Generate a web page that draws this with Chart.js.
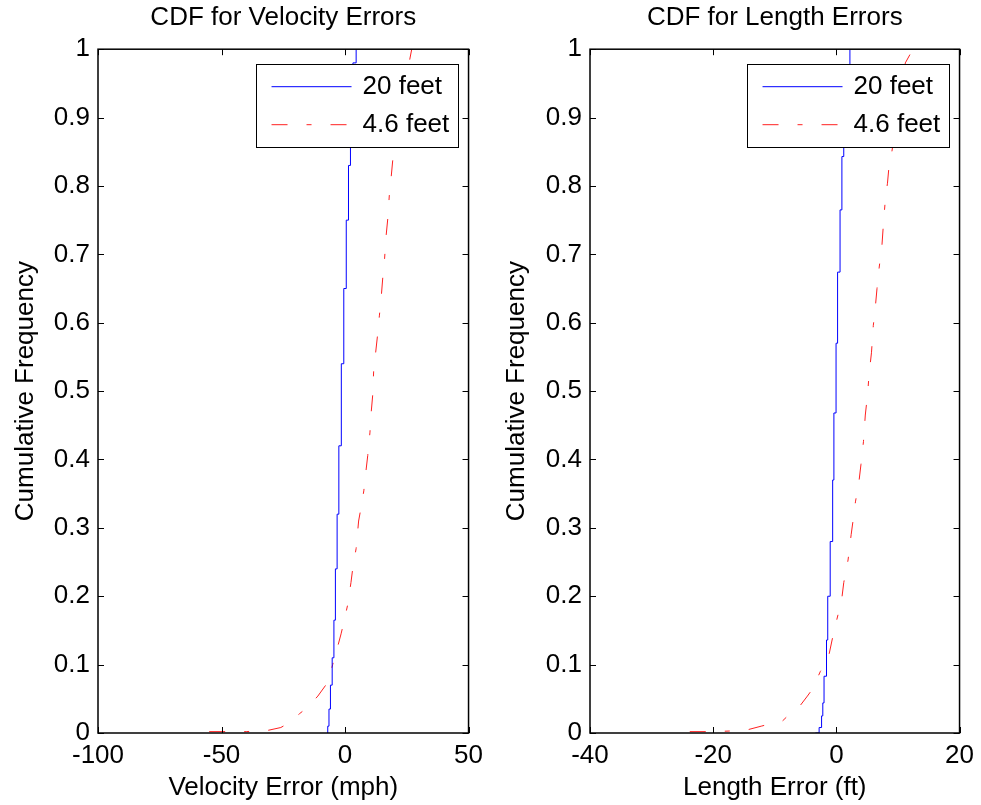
<!DOCTYPE html>
<html><head><meta charset="utf-8">
<script src="https://cdn.jsdelivr.net/npm/chart.js@4.4.1/dist/chart.umd.min.js"></script>
<style>
html,body{margin:0;padding:0;background:#fff;}
#wrap{position:relative;width:981px;height:805px;background:#fff;}
canvas{position:absolute;top:0;}
</style></head><body>
<div id="wrap">
<canvas id="c1" width="490" height="805" style="left:0"></canvas>
<canvas id="c2" width="491" height="805" style="left:490px"></canvas>
</div>
<script>
// ---- data ----
const seriesNames = ['20 feet', '4.6 feet'];
const velTitle = 'CDF for Velocity Errors';
const lenTitle = 'CDF for Length Errors';
const velXLabel = 'Velocity Error (mph)';
const lenXLabel = 'Length Error (ft)';
const yLabel = 'Cumulative Frequency';

const velXTicks = [-100, -50, 0, 50];
const lenXTicks = [-40, -20, 0, 20];
const yTicks = [0, 0.1, 0.2, 0.3, 0.4, 0.5, 0.6, 0.7, 0.8, 0.9, 1];
const yTickLabels = ['0', '0.1', '0.2', '0.3', '0.4', '0.5', '0.6', '0.7', '0.8', '0.9', '1'];

// Velocity errors, 20 feet
const vel20X = [-7.0, -7.0, -6.5, -5.9, -5.2, -4.5, -3.9, -3.2, -2.5, -1.5, -0.5, 0.5, 1.4, 2.2, 3.2, 4.5];
const vel20Y = [0, 0.01, 0.035, 0.07, 0.11, 0.165, 0.24, 0.32, 0.42, 0.54, 0.65, 0.75, 0.83, 0.93, 0.98, 1.0];
// Velocity errors, 4.6 feet
const vel46X = [-55, -45, -40, -31, -26, -22.6, -18.5, -15, -11, -7, -5, -3, -1.6, -0.3, 1.1, 2.4, 3.1, 4.5, 5.5, 6.5, 7.6, 8.5, 9.2, 10.1, 10.5, 11.2, 11.6, 12.6, 13.2, 13.9, 14.6, 15.3, 16, 16.6, 17.3, 18, 18.6, 19.3, 20, 21.5, 23, 25, 26.2, 27];
const vel46Y = [0.002, 0.002, 0.002, 0.004, 0.008, 0.015, 0.028, 0.038, 0.054, 0.074, 0.1, 0.126, 0.145, 0.165, 0.188, 0.22, 0.24, 0.27, 0.31, 0.33, 0.354, 0.384, 0.406, 0.44, 0.465, 0.494, 0.53, 0.563, 0.583, 0.61, 0.635, 0.667, 0.693, 0.726, 0.752, 0.79, 0.81, 0.837, 0.847, 0.88, 0.92, 0.96, 0.985, 1.0];
// Length errors, 20 feet
const len20X = [-3.4, -2.8, -2.4, -2.2, -2.0, -1.6, -1.4, -1.0, -0.6, -0.4, -0.05, 0.2, 0.6, 0.9, 1.2, 1.65, 2.2];
const len20Y = [0, 0.008, 0.025, 0.044, 0.083, 0.136, 0.2, 0.28, 0.37, 0.468, 0.57, 0.674, 0.765, 0.843, 0.88, 0.967, 1.0];
// Length errors, 4.6 feet
const len46X = [-23.8, -20, -17, -14.3, -12.2, -8.7, -7.9, -5.8, -4.7, -3.9, -2.6, -1.3, -0.6, 0.05, 0.85, 1.2, 1.9, 2.4, 2.7, 3.1, 3.7, 4.0, 4.4, 4.7, 5.1, 5.3, 5.7, 6.0, 6.3, 6.6, 6.9, 7.4, 7.7, 8.0, 8.3, 8.5, 8.8, 9.5, 10.3, 11.2, 12.0, 12.5];
const len46Y = [0.002, 0.002, 0.003, 0.005, 0.01, 0.018, 0.025, 0.041, 0.054, 0.064, 0.09, 0.11, 0.14, 0.165, 0.194, 0.22, 0.253, 0.29, 0.31, 0.338, 0.37, 0.393, 0.426, 0.465, 0.498, 0.524, 0.556, 0.596, 0.62, 0.65, 0.677, 0.713, 0.752, 0.785, 0.804, 0.824, 0.837, 0.88, 0.93, 0.98, 0.993, 1.0];

// ---- styling ----
const FONT = '"Liberation Sans", Arial, Helvetica, sans-serif';
const FS = 26;
Chart.defaults.font.family = FONT;
Chart.defaults.font.size = FS;
Chart.defaults.color = '#000';

const toPts = (xs, ys) => xs.map((x, i) => ({x: x, y: ys[i]}));

const boxPlugin = {
  id: 'boxPlugin',
  afterDatasetsDraw(chart) {
    const {ctx, chartArea: a, scales: {x, y}} = chart;
    ctx.save();
    // legend box inside the axes
    const bx = a.right - 213, by = a.top + 15, bw = 202, bh = 83;
    ctx.fillStyle = '#fff';
    ctx.fillRect(bx, by, bw, bh);
    ctx.strokeStyle = '#000';
    ctx.lineWidth = 1;
    ctx.strokeRect(Math.round(bx) + 0.5, Math.round(by) + 0.5, bw, bh);
    const rows = [by + 22, by + 60];
    chart.data.datasets.forEach((ds, i) => {
      ctx.save();
      ctx.strokeStyle = ds.borderColor;
      ctx.lineWidth = 1;
      ctx.setLineDash(ds.borderDash || []);
      ctx.beginPath();
      ctx.moveTo(bx + 16, rows[i] + 0.5);
      ctx.lineTo(bx + 96, rows[i] + 0.5);
      ctx.stroke();
      ctx.restore();
      ctx.fillStyle = '#000';
      ctx.font = FS + 'px ' + FONT;
      ctx.textBaseline = 'middle';
      ctx.textAlign = 'left';
      ctx.fillText(ds.label, bx + 107, rows[i] + 1);
    });
    // inward tick marks
    const L = 6;
    ctx.strokeStyle = '#000';
    ctx.lineWidth = 1;
    ctx.beginPath();
    x.ticks.forEach(t => {
      const px = Math.round(x.getPixelForValue(t.value)) + 0.5;
      ctx.moveTo(px, a.bottom); ctx.lineTo(px, a.bottom - L);
      ctx.moveTo(px, a.top); ctx.lineTo(px, a.top + L);
    });
    y.ticks.forEach(t => {
      const py = Math.round(y.getPixelForValue(t.value)) + 0.5;
      ctx.moveTo(a.left, py); ctx.lineTo(a.left + L, py);
      ctx.moveTo(a.right, py); ctx.lineTo(a.right - L, py);
    });
    ctx.stroke();
    ctx.lineWidth = 1.5;
    ctx.strokeRect(a.left, a.top, a.right - a.left, a.bottom - a.top);
    ctx.restore();
  }
};

function makeChart(id, title, xLabel, xTicks, blue, red, yWidth, padRight, yTitlePad) {
  return new Chart(document.getElementById(id), {
    type: 'line',
    data: {
      datasets: [
        {label: seriesNames[0], data: blue, borderColor: '#0000ff', borderWidth: 1, pointRadius: 0, stepped: true, fill: false},
        {label: seriesNames[1], data: red, borderColor: '#ff2020', borderWidth: 1, borderDash: [16, 19, 5, 19], pointRadius: 0, stepped: false, tension: 0, fill: false}
      ]
    },
    options: {
      responsive: false,
      animation: false,
      events: [],
      layout: {padding: {left: 0, right: padRight, top: 0, bottom: 0}},
      plugins: {
        legend: {display: false},
        tooltip: {enabled: false},
        title: {display: true, fullSize: false, text: title, color: '#000', font: {size: FS, weight: 'normal', lineHeight: 1.2}, padding: {top: 2, bottom: 16}}
      },
      scales: {
        x: {
          type: 'linear',
          min: xTicks[0], max: xTicks[xTicks.length - 1],
          afterBuildTicks: s => { s.ticks = xTicks.map(v => ({value: v})); },
          afterFit: s => { s.height = 72; },
          grid: {display: false, drawTicks: false},
          border: {display: false},
          ticks: {padding: 7, color: '#000', font: {size: FS}, maxRotation: 0, autoSkip: false, callback: v => String(v)},
          title: {display: true, text: xLabel, color: '#000', font: {size: FS, lineHeight: 1.2}, padding: {top: 0, bottom: 2}}
        },
        y: {
          type: 'linear',
          min: 0, max: 1,
          afterBuildTicks: s => { s.ticks = yTicks.map(v => ({value: v})); },
          afterFit: s => { s.width = yWidth; },
          grid: {display: false, drawTicks: false},
          border: {display: false},
          ticks: {padding: 8, color: '#000', font: {size: FS}, autoSkip: false, callback: (v, i) => yTickLabels[i]},
          title: {display: true, text: yLabel, color: '#000', font: {size: FS, lineHeight: 1.2}, padding: {top: yTitlePad, bottom: 0}}
        }
      }
    },
    plugins: [boxPlugin]
  });
}

makeChart('c1', velTitle, velXLabel, velXTicks, toPts(vel20X, vel20Y), toPts(vel46X, vel46Y), 98, 19, 10);
makeChart('c2', lenTitle, lenXLabel, lenXTicks, toPts(len20X, len20Y), toPts(len46X, len46Y), 100, 18, 11);
</script>
</body></html>
